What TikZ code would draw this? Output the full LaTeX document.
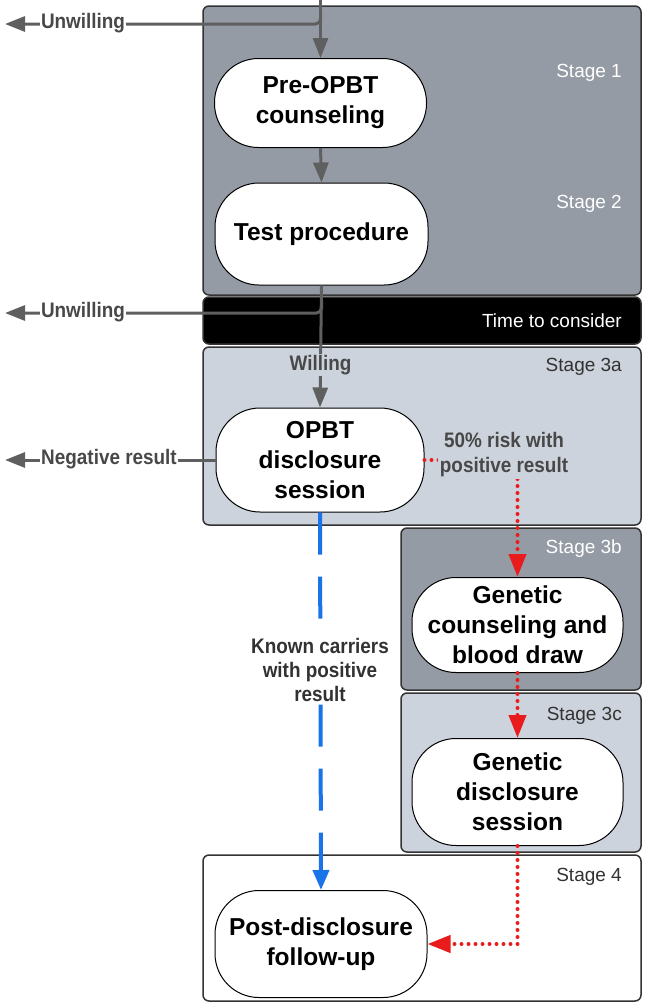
\documentclass[tikz,border=0pt]{standalone}
\usepackage{fontspec}
\setmainfont{Liberation Sans}
\newfontfamily\narrowsans{Liberation Sans}[FakeStretch=0.9]
\usetikzlibrary{arrows.meta}
\definecolor{panelDark}{RGB}{149,155,165}
\definecolor{panelLight}{RGB}{205,211,220}
\definecolor{arrowGray}{RGB}{95,95,95}
\definecolor{redArrow}{RGB}{232,28,28}
\definecolor{blueArrow}{RGB}{26,115,232}
\definecolor{labelGray}{RGB}{72,72,72}
\definecolor{darkText}{RGB}{50,50,50}
\tikzset{
  panel/.style={draw=black!80, line width=1.5pt, rounded corners=6pt},
  proc/.style={draw=black, line width=1pt, fill=white, rounded corners=44pt,
    align=center, font=\fontsize{24.5}{30}\selectfont\bfseries, inner sep=0pt},
  stagelbl/.style={anchor=east, font=\fontsize{19}{22}\selectfont, inner sep=0pt},
  edgelbl/.style={font=\narrowsans\fontsize{21}{25}\selectfont\bfseries, text=labelGray, inner sep=1.5pt, align=center},
  grayarrow/.style={draw=arrowGray, line width=3pt, -{Triangle[length=20pt,width=15pt]}},
  redarrow/.style={draw=redArrow, line width=4pt, line cap=round, dash pattern=on 0pt off 7pt,
    -{Triangle[length=23pt,width=17pt]}},
  bluearrow/.style={draw=blueArrow, line width=4pt, dash pattern=on 42pt off 22pt,
    -{Triangle[length=20pt,width=16pt]}}
}
\begin{document}
\begin{tikzpicture}[x=1pt,y=-1pt]
\useasboundingbox (0,0) rectangle (646,1005);
% panels
\draw[panel, fill=panelDark] (203,6) rectangle (641,295);
\draw[panel, fill=black] (203,297) rectangle (641,344);
\draw[panel, fill=panelLight] (203,347) rectangle (641,525);
\draw[panel, fill=panelDark] (401,528) rectangle (641,690);
\draw[panel, fill=panelLight] (401,693) rectangle (641,852);
\draw[panel, fill=white] (203,855) rectangle (641,1001);
% stage labels
\node[stagelbl, text=white] (s1) at (622,73) {Stage 1};
\node[stagelbl, text=white] (s2) at (622,204) {Stage 2};
\node[stagelbl, text=white] (ttc) at (622,321) {Time to consider};
\node[stagelbl, text=darkText] (s3a) at (622,367) {Stage 3a};
\node[stagelbl, text=white] (s3b) at (622,549) {Stage 3b};
\node[stagelbl, text=darkText] (s3c) at (622,716) {Stage 3c};
\node[stagelbl, text=darkText] (s4) at (622,877) {Stage 4};
% process nodes
\node[proc, minimum width=212pt, minimum height=89pt] (pre) at (320.5,103) {Pre-OPBT\\counseling};
\node[proc, minimum width=213pt, minimum height=102pt] (test) at (321.5,234) {Test procedure};
\node[proc, minimum width=208pt, minimum height=104pt] (opbt) at (320,460) {OPBT\\disclosure\\session};
\node[proc, minimum width=211pt, minimum height=95pt] (gc) at (517.5,625) {Genetic\\counseling and\\blood draw};
\node[proc, minimum width=211pt, minimum height=107pt] (gd) at (517.5,792) {Genetic\\disclosure\\session};
\node[proc, minimum width=212pt, minimum height=107pt] (post) at (321,944) {Post-disclosure\\follow-up};
% coordinates
\coordinate (topin) at (320.5,0);
\coordinate (br1) at (320.5,12);
\coordinate (exit1) at (5,24);
\coordinate (br2) at (321.5,300);
\coordinate (exit2) at (5,313);
\coordinate (exit3) at (5,460);
% gray connectors
\draw[grayarrow] (topin) -- (pre.north);
\draw[grayarrow, rounded corners=5pt] (br1) |- (exit1);
\draw[grayarrow] (pre.south) -- (test.north);
\draw[grayarrow] (test.south) -- (opbt.north);
\draw[grayarrow, rounded corners=5pt] (br2) |- (exit2);
\draw[grayarrow] (opbt.west) -- (exit3);
% red connectors
\draw[redarrow] (opbt.east) -| (gc.north);
\draw[redarrow] (gc.south) -- (gd.north);
\draw[redarrow] (gd.south) |- (post.east);
% blue connector
\draw[bluearrow] (opbt.south) -- (post.north);
% edge labels
\node[edgelbl, fill=white] (unw1) at (83,23) {Unwilling};
\node[edgelbl, fill=white] (unw2) at (83,312) {Unwilling};
\node[edgelbl, fill=panelLight] (will) at (320.5,365) {Willing};
\node[edgelbl, fill=white] (neg) at (109,459) {Negative result};
\node[edgelbl, fill=panelLight, text=labelGray] (risk) at (504,455) {50\% risk with\\positive result};
\node[edgelbl, fill=white, text=darkText, font=\narrowsans\fontsize{21}{24}\selectfont\bfseries] (known) at (320,670) {Known carriers\\with positive\\result};
\end{tikzpicture}
\end{document}
